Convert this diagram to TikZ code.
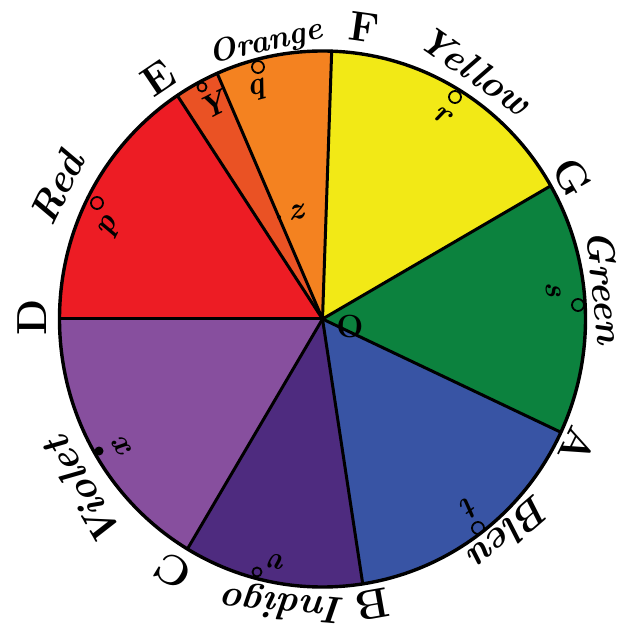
\documentclass[tikz,border=0pt]{standalone}
\usepackage{fontspec}
\definecolor{cred}{RGB}{237,28,36}
\definecolor{credor}{RGB}{234,82,36}
\definecolor{corange}{RGB}{244,130,32}
\definecolor{cyellow}{RGB}{242,233,22}
\definecolor{cgreen}{RGB}{12,130,62}
\definecolor{cblue}{RGB}{56,84,164}
\definecolor{cindigo}{RGB}{78,43,127}
\definecolor{cviolet}{RGB}{135,79,158}
\tikzset{
  divider/.style={line width=3pt, line cap=round},
  rim/.style={line width=3.4pt},
  ptlabel/.style={font=\fontsize{42}{42}\selectfont\bfseries, inner sep=0pt},
  colname/.style={font=\fontsize{38}{38}\selectfont\bfseries\itshape, inner sep=0pt},
  cgletter/.style={font=\fontsize{32}{32}\selectfont\bfseries\itshape, inner sep=0pt},
  cgring/.style={draw, line width=1.8pt, circle, minimum size=12pt, inner sep=0pt},
  cgdot/.style={fill, circle, minimum size=9pt, inner sep=0pt},
}
\begin{document}
\begin{tikzpicture}[x=1pt,y=1pt]
\useasboundingbox (0,0) rectangle (632,630);
\fill[white] (0,0) rectangle (632,630);
\coordinate (O) at (322.5,311);
% sectors
\foreach \a/\b/\c in {123.5/180/cred, 113.6/123.5/credor, 88/113.6/corange,
  29.8/88/cyellow, -25/29.8/cgreen, -81.2/-25/cblue, -120.9/-81.2/cindigo,
  180/239.1/cviolet}
  \fill[\c] (O) -- ++(\a:263pt and 268pt) arc[start angle=\a, end angle=\b, x radius=263pt, y radius=268pt] -- cycle;
% boundary points
\foreach \n/\a in {D/180, E/123.5, YZ/113.6, F/88, G/29.8, A/-25, B/-81.2, C/-120.9}
  \path (O) ++(\a:263pt and 268pt) coordinate (p\n);
\foreach \n in {D, E, YZ, F, G, A, B, C}
  \draw[divider] (O) -- (p\n);
\draw[rim] (O) ellipse[x radius=263pt, y radius=268pt];
% point letters
\node[ptlabel, rotate=90] (lD) at (32,313) {D};
\node[ptlabel, rotate=34] (lE) at (158,552) {E};
\node[ptlabel, rotate=-8] (lF) at (364,603) {F};
\node[ptlabel, rotate=-60] (lG) at (572,453) {G};
\node[ptlabel, rotate=-116] (lA) at (578,184) {A};
\node[ptlabel, rotate=-170] (lB) at (372,25) {B};
\node[ptlabel, rotate=149] (lC) at (173,59) {C};
\node[font=\fontsize{32}{32}\selectfont\bfseries, inner sep=0pt] (lO) at (350,303) {O};
% colour names
\node[colname, font=\fontsize{40}{40}\selectfont\bfseries\itshape, rotate=64] (nRed) at (57,442) {Red};
\node[colname, font=\fontsize{32}{32}\selectfont\bfseries\itshape, rotate=13] (nOrange) at (266,587) {Orange};
\node[colname, rotate=-35] (nYellow) at (475,560) {Yellow};
\node[colname, rotate=-84] (nGreen) at (605,343) {Green};
\node[colname, font=\fontsize{40}{40}\selectfont\bfseries\itshape, rotate=-139] (nBlue) at (510,97) {Bleu};
\node[colname, font=\fontsize{38}{38}\selectfont\bfseries\itshape, rotate=175] (nIndigo) at (284,27) {Indigo};
\node[colname, font=\fontsize{40}{40}\selectfont\bfseries\itshape, rotate=120] (nViolet) at (83,138) {Violet};
% centres of gravity
\node[cgring] (rp) at (97,427) {};
\node[cgletter, rotate=64] (tp) at (110,403) {p};
\node[cgring] (rq) at (258,563) {};
\node[cgletter, rotate=15] (tq) at (257,540) {q};
\node[cgring] (rr) at (455,533) {};
\node[cgletter, rotate=-30] (tr) at (442,515) {r};
\node[cgring] (rs) at (578,325) {};
\node[cgletter, rotate=-84] (ts) at (553,340) {s};
\node[cgring] (rt) at (478,102) {};
\node[cgletter, rotate=-142] (tt) at (470,123) {t};
\node[cgring, minimum size=9pt] (rv) at (257,58) {};
\node[cgletter, rotate=170] (tv) at (278,68) {v};
\node[cgdot] (rx) at (99,179) {};
\node[cgletter, rotate=123] (tx) at (123,182) {x};
\node[cgring, minimum size=9pt] (rY) at (202,543) {};
\node[cgletter, rotate=27] (tY) at (213,525) {Y};
\node[cgdot, minimum size=4pt] (dz) at (279,413) {};
\node[cgletter, rotate=8] (tz) at (296,418) {z};
\end{tikzpicture}
\end{document}
